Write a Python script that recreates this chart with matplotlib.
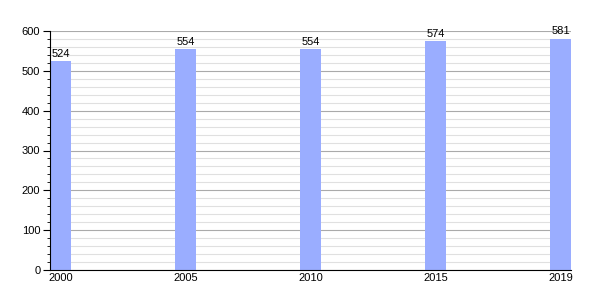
import matplotlib

matplotlib.use("Agg")
import matplotlib.pyplot as plt  # noqa: E402
from matplotlib.ticker import MultipleLocator  # noqa: E402

years = ["2000", "2005", "2010", "2015", "2019"]
population = [524, 554, 554, 574, 581]

plt.rcParams["font.family"] = ["Liberation Sans", "DejaVu Sans"]

fig = plt.figure(figsize=(6, 3), dpi=100)
ax = fig.add_axes([50 / 600, 30 / 300, 521 / 600, 239 / 300])

width = 0.168
pos = list(range(len(years)))
ax.bar([p + width / 2 for p in pos], population, width=width, color="#9aadff", zorder=3)
for p, v in zip(pos, population):
    ax.text(p + width / 2, v + 6, str(v), ha="center", va="bottom", fontsize=8, zorder=4)

ax.set_xlim(0, len(years) - 1 + width)
ax.set_ylim(0, 600)
ax.set_xticks([p + width / 2 for p in pos])
ax.set_xticklabels(years)
ax.yaxis.set_major_locator(MultipleLocator(100))
ax.yaxis.set_minor_locator(MultipleLocator(20))
ax.grid(axis="y", which="major", color="#aaaaaa", lw=0.8, zorder=1)
ax.grid(axis="y", which="minor", color="#e0e0e0", lw=0.8, zorder=1)
ax.tick_params(axis="x", length=0, labelsize=8, pad=2)
ax.tick_params(axis="y", which="major", length=5, labelsize=8, pad=2)
ax.tick_params(axis="y", which="minor", length=2)
for s in ("top", "right"):
    ax.spines[s].set_visible(False)
ax.spines["left"].set_zorder(5)
ax.spines["bottom"].set_zorder(5)

fig.savefig("out.png", dpi=100)
